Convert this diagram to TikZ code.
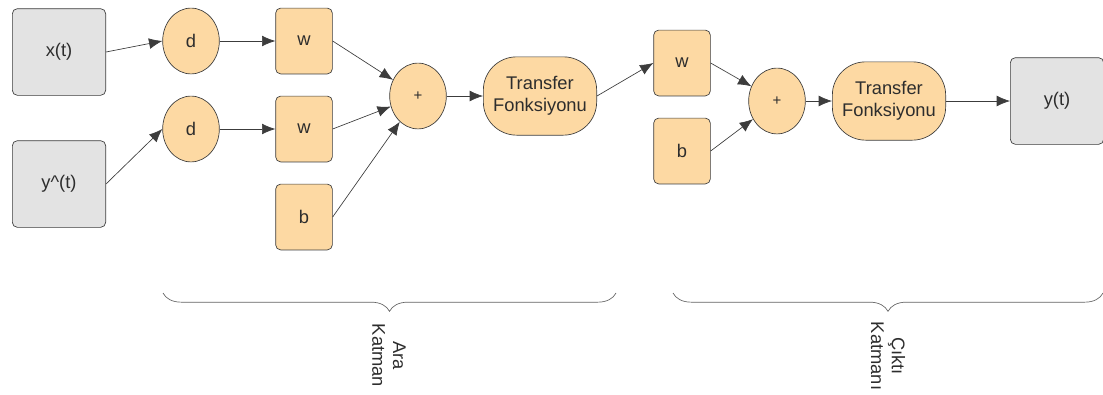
\documentclass[tikz,border=0pt]{standalone}
\usepackage{fontspec}
\setmainfont{Liberation Sans}
\usetikzlibrary{arrows.meta,decorations.pathreplacing,shapes.geometric}

\definecolor{cellfill}{RGB}{253,217,163}
\definecolor{iofill}{RGB}{227,227,227}
\definecolor{edge}{RGB}{60,60,60}
\definecolor{ink}{RGB}{45,45,45}

\tikzset{
	io/.style={draw=edge, fill=iofill, text=ink, rounded corners=3pt, minimum width=56pt, minimum height=52pt, font=\fontsize{11}{13}\selectfont},
	unit/.style={draw=edge, fill=cellfill, text=ink, ellipse, minimum width=34pt, minimum height=39.5pt, inner sep=0pt, font=\fontsize{11}{13}\selectfont},
	weight/.style={draw=edge, fill=cellfill, text=ink, rounded corners=3pt, minimum width=34pt, minimum height=39.5pt, font=\fontsize{11}{13}\selectfont},
	transfer/.style={draw=edge, fill=cellfill, text=ink, rounded corners=20pt, minimum width=68pt, minimum height=47pt, align=center, font=\fontsize{11}{13}\selectfont},
	link/.style={draw=edge, -{Latex[length=8pt,width=6.5pt]}},
	layer/.style={draw=edge!80, decorate, decoration={brace, mirror, amplitude=11pt}},
	tag/.style={rotate=-90, anchor=west, align=center, text=ink, font=\fontsize{11}{12.5}\selectfont}
}

\begin{document}
\begin{tikzpicture}[x=0.6pt, y=-0.6pt]
		\useasboundingbox (0,0) rectangle (1103,394);
		% inputs
		\node[io] (x) at (59,52) {x(t)};
		\node[io] (yhat) at (59,184) {y\^{}(t)};
		% hidden layer
		\node[unit] (d1) at (191,41) {d};
		\node[unit] (d2) at (191,129) {d};
		\node[weight] (w1) at (304,41) {w};
		\node[weight] (w2) at (304,129) {w};
		\node[weight] (b1) at (304,217) {b};
		\node[unit, font=\fontsize{9}{10}\selectfont] (sum1) at (418,96) {+};
		\node[transfer] (f1) at (540,96) {Transfer\\Fonksiyonu};
		% output layer
		\node[weight] (w3) at (682,63) {w};
		\node[weight] (b2) at (682,151) {b};
		\node[unit, font=\fontsize{9}{10}\selectfont] (sum2) at (777,101) {+};
		\node[transfer] (f2) at (889,101) {Transfer\\Fonksiyonu};
		\node[io] (y) at (1057,101) {y(t)};

		\draw[link] (x.east) -- (d1.west);
		\draw[link] (yhat.east) -- (d2.west);
		\draw[link] (d1) -- (w1);
		\draw[link] (d2) -- (w2);
		\draw[link] (w1.east) -- (sum1);
		\draw[link] (w2.east) -- (sum1);
		\draw[link] (b1.east) -- (sum1);
		\draw[link] (sum1) -- (f1);
		\draw[link] (f1.east) -- (w3.west);
		\draw[link] (w3.east) -- (sum2);
		\draw[link] (b2.east) -- (sum2);
		\draw[link] (sum2) -- (f2);
		\draw[link] (f2) -- (y);

		% layer braces
		\draw[layer] (163,293) coordinate (h0) -- (616,293) coordinate (h1);
		\draw[layer] (673,293) coordinate (o0) -- (1103,293) coordinate (o1);
		\node[tag] (hlabel) at (389,318) {Ara\\Katman};
		\node[tag] (olabel) at (888,316) {Çıktı\\Katmanı};
	\end{tikzpicture}
\end{document}
